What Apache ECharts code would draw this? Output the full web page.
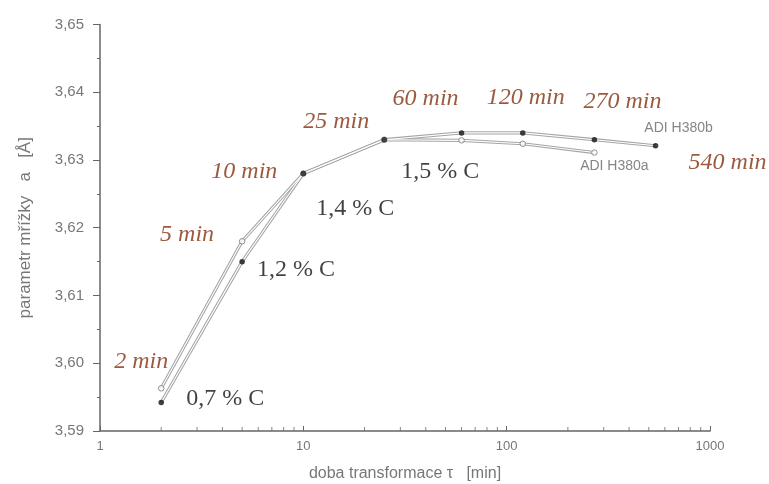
<!DOCTYPE html>
<html><head><meta charset="utf-8">
<script src="https://cdn.jsdelivr.net/npm/echarts@6/dist/echarts.min.js"></script>
<style>html,body{margin:0;padding:0;background:#fff}#c{width:769px;height:484px}</style>
</head><body><div id="c"></div>
<script>
// ---- data ----
const timesA = [2, 5, 10, 25, 60, 120, 270];
const valuesA = [3.5963, 3.618, 3.628, 3.633, 3.6329, 3.6324, 3.6311];
const timesB = [2, 5, 10, 25, 60, 120, 270, 540];
const valuesB = [3.5942, 3.615, 3.628, 3.633, 3.634, 3.634, 3.633, 3.6321];
const timeLabels = ['2 min', '5 min', '10 min', '25 min', '60 min', '120 min', '270 min', '540 min'];
const carbonLabels = ['0,7 % C', '1,2 % C', '1,4 % C', '1,5 % C']; // at the first four points of H380b
const seriesNames = ['ADI H380a', 'ADI H380b'];
const xTickLabels = ['1', '10', '100', '1000'];
const minorXTicks = [2,3,4,5,6,7,8,9,20,30,40,50,60,70,80,90,200,300,400,500,600,700,800,900];
const yMin = 3.59, yMax = 3.65, yStep = 0.01;

// ---- label styling offsets (pixels) ----
const timeOffsets = [[-20,-41],[-55,-27],[-59,-2],[-48,-18],[-36,-34],[3,-35],[28,-38],[72,17]];
const carbonOffsets = [[64,-4],[54,8],[52,35],[56,32]];
const nameOffsetA = [20, 14], nameOffsetB = [23, -18];

const pairs = (xs, ys) => xs.map((x, i) => [x, ys[i]]);
const dataA = pairs(timesA, valuesA);
const dataB = pairs(timesB, valuesB);

const chart = echarts.init(document.getElementById('c'), null, {renderer: 'canvas'});
const axisGrey = '#666';
const labelGrey = '#777';
const redBrown = '#83300e';

function textSeries(data, texts, offsets, style) {
  return {
    type: 'scatter', silent: true, z: 10,
    symbolSize: 0.1, itemStyle: {color: 'rgba(0,0,0,0)'},
    data: data.map((d, i) => ({
      value: d,
      label: {
        show: true, position: 'inside', formatter: texts[i],
        offset: offsets[i], align: 'center', verticalAlign: 'middle',
        ...style
      }
    }))
  };
}

const lineOuter = {type: 'line', symbol: 'none', silent: true, lineStyle: {color: '#a5a5a5', width: 3.2}, z: 2};
const lineInner = {type: 'line', symbol: 'none', silent: true, lineStyle: {color: '#ffffff', width: 1.1}, z: 3};

chart.setOption({
  animation: false,
  backgroundColor: '#fff',
  grid: {left: 100, right: 59, top: 24.5, bottom: 53, containLabel: false, outerBoundsMode: 'none'},
  xAxis: {
    type: 'log', logBase: 10, min: 1, max: 1000,
    name: 'doba transformace τ   [min]', nameLocation: 'middle', nameGap: 35,
    nameTextStyle: {color: labelGrey, fontSize: 16, fontFamily: 'Liberation Sans'},
    axisLine: {show: true, lineStyle: {color: axisGrey, width: 1.5}},
    axisTick: {show: true, inside: true, length: 5, lineStyle: {color: axisGrey}},
    axisLabel: {color: labelGrey, fontSize: 13, fontFamily: 'Liberation Sans', margin: 9,
      formatter: (v) => xTickLabels[Math.round(Math.log10(v))]},
    splitLine: {show: false}
  },
  yAxis: {
    type: 'value', min: yMin, max: yMax, interval: yStep,
    name: 'parametr mřížky   a   [Å]', nameLocation: 'middle', nameGap: 66, nameRotate: 90,
    nameTextStyle: {color: labelGrey, fontSize: 17, fontFamily: 'Liberation Sans'},
    axisLine: {show: true, lineStyle: {color: axisGrey, width: 1.5}},
    axisTick: {show: true, inside: false, length: 7, lineStyle: {color: axisGrey}},
    minorTick: {show: true, splitNumber: 2, length: 3, lineStyle: {color: axisGrey}},
    axisLabel: {color: labelGrey, fontSize: 15, fontFamily: 'Liberation Sans', margin: 16,
      formatter: (v) => v.toFixed(2).replace('.', ',')},
    splitLine: {show: false}
  },
  series: [
    // minor ticks on log x axis
    {type: 'scatter', silent: true, z: 1, symbol: 'rect', symbolSize: [1, 4], symbolOffset: [0, -2],
      itemStyle: {color: axisGrey}, data: minorXTicks.map(v => [v, yMin])},
    {...lineOuter, data: dataA},
    {...lineOuter, data: dataB},
    {...lineInner, data: dataA},
    {...lineInner, data: dataB},
    {name: seriesNames[0], type: 'scatter', z: 5, symbol: 'circle', symbolSize: 5.5,
      itemStyle: {color: '#fff', borderColor: '#777', borderWidth: 1}, data: dataA},
    {name: seriesNames[1], type: 'scatter', z: 6, symbol: 'circle', symbolSize: 5.5,
      itemStyle: {color: '#111'}, data: dataB},
    textSeries(dataB, timeLabels, timeOffsets,
      {color: redBrown, fontSize: 24, fontStyle: 'italic', fontFamily: 'Liberation Serif'}),
    textSeries(dataB.slice(0, carbonLabels.length), carbonLabels, carbonOffsets,
      {color: '#111', fontSize: 24, fontFamily: 'Liberation Serif'}),
    textSeries([dataA[dataA.length - 1], dataB[dataB.length - 1]], seriesNames, [nameOffsetA, nameOffsetB],
      {color: '#666', fontSize: 14, fontFamily: 'Liberation Sans'})
  ]
});
</script>
</body></html>
